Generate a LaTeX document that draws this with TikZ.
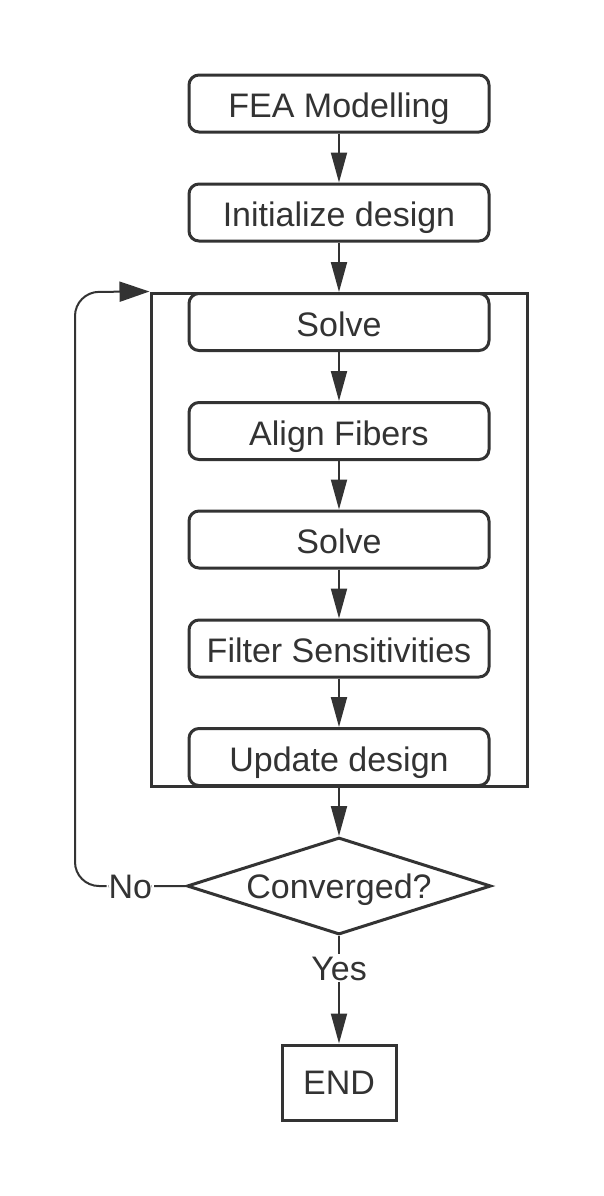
\documentclass[tikz,border=0pt]{standalone}
\usepackage{fontspec}
\setmainfont{Liberation Sans}
\usetikzlibrary{arrows.meta,shapes.geometric}
\definecolor{ink}{HTML}{333333}
\tikzset{
  txt/.style={text=ink, font=\fontsize{17}{20}\selectfont, text height=14pt, text depth=0pt},
  txtb/.style={text=ink, font=\fontsize{17}{20}\selectfont, text height=12pt, text depth=0pt},
  stepbox/.style={txt, draw=ink, line width=1.5pt, rounded corners=5pt, minimum width=150pt, minimum height=28.5pt, inner sep=0pt},
  flow/.style={draw=ink, line width=1pt, -{Triangle[length=15pt,width=8pt]}},
  lbl/.style={txtb, fill=white, inner sep=1pt}
}
\begin{document}
\begin{tikzpicture}[x=0.5pt,y=-0.5pt]
\useasboundingbox[fill=white] (0,0) rectangle (604,1196);
\node[draw=ink, line width=1.5pt, minimum width=188pt, minimum height=246.5pt, inner sep=0pt] (big) at (339,539.5) {};
\node[stepbox] (fea) at (339,103.5) {FEA Modelling};
\node[stepbox] (init) at (339,212.5) {Initialize design};
\node[stepbox] (s1) at (339,322) {Solve};
\node[stepbox] (align) at (339,431) {Align Fibers};
\node[stepbox] (s2) at (339,539.5) {Solve};
\node[stepbox] (filt) at (339,648.5) {Filter Sensitivities};
\node[stepbox] (upd) at (339,757) {Update design};
\node[txtb, diamond, shape aspect=3.134, draw=ink, line width=1.5pt, minimum width=152pt, minimum height=48.5pt, inner sep=0pt] (dia) at (339,886) {Converged?};
\node[txtb, draw=ink, line width=1.5pt, minimum width=57pt, minimum height=37.5pt, inner sep=0pt] (end) at (339,1082.5) {END};
\coordinate (c1) at (75,886);
\coordinate (c2) at (75,292);
\draw[flow] (fea) -- (init);
\draw[flow] (init) -- (s1);
\draw[flow] (s1) -- (align);
\draw[flow] (align) -- (s2);
\draw[flow] (s2) -- (filt);
\draw[flow] (filt) -- (upd);
\draw[flow] (big.south) -- (dia.north);
\draw[flow] (dia.south) -- node[lbl, pos=0.3] {Yes} (end.north);
\draw[draw=ink, line width=1pt, rounded corners=12pt, -{Triangle[length=15pt,width=10pt]}] (dia.west) -- node[lbl, pos=0.5] {No} (c1) -- (c2) -- (big.north west);
\end{tikzpicture}
\end{document}
